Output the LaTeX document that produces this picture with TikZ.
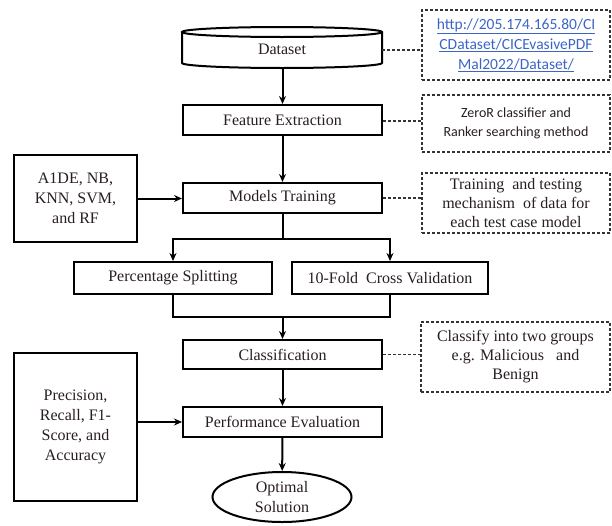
\documentclass[tikz,border=0pt]{standalone}
\usepackage{fontspec}
\setmainfont{Liberation Serif}
\newfontfamily\calibfont{Carlito}
\usetikzlibrary{arrows.meta,shapes.geometric}
\definecolor{linkblue}{RGB}{60,100,200}
\definecolor{txt}{RGB}{40,30,30}
\tikzset{
  proc/.style={draw, line width=2pt, inner sep=0pt, align=center, text=txt, font=\fontsize{16}{20}\selectfont},
  note/.style={draw=black!80, dash pattern=on 3pt off 2pt, line width=1.4pt, inner sep=0pt, align=center, text=txt, font=\fontsize{16}{19}\selectfont},
  conn/.style={line width=2pt, -{Stealth[length=8pt,width=7pt]}},
  plain/.style={line width=2pt},
  dashlink/.style={draw=black!80, dash pattern=on 3pt off 2pt, line width=1.4pt}
}
\begin{document}
\begin{tikzpicture}[x=1pt,y=1pt]
\useasboundingbox (0,0) rectangle (612,-525);
% cylinder for dataset
\draw[line width=2pt] (182,-32) -- (182,-63) arc[start angle=180,end angle=360,x radius=100,y radius=5] -- (382,-32);
\draw[line width=2pt] (282,-32) ellipse[x radius=100, y radius=5];
\node[inner sep=0pt, minimum width=200pt, minimum height=36pt, text=txt, font=\fontsize{16}{20}\selectfont] (dataset) at (282,-49) {Dataset};
\coordinate (dsbottom) at (282.5,-68);

\node[note, minimum width=188pt, minimum height=70pt, font=\calibfont\fontsize{15.5}{20}\selectfont, text=linkblue] (link) at (516,-45)
  {\underline{http://205.174.165.80/CI}\\\underline{CDataset/CICEvasivePDF}\\\underline{Mal2022/Dataset/}};

\node[proc, minimum width=199pt, minimum height=30pt] (feat) at (282.5,-120) {Feature Extraction};
\node[note, minimum width=188pt, minimum height=57pt, font=\calibfont\fontsize{14}{19}\selectfont] (zeror) at (516,-123.5)
  {ZeroR classifier and\\Ranker searching method};

\node[proc, minimum width=199pt, minimum height=30pt] (models) at (282.5,-198) {Models Training};
\node[note, minimum width=188pt, minimum height=60pt] (train) at (516,-203)
  {Training\ \ and testing\\mechanism\ \ of data for\\each test case model};

\node[proc, minimum width=123pt, minimum height=87pt] (algo) at (75.5,-198.5)
  {A1DE, NB,\\KNN, SVM,\\and RF};

\node[proc, minimum width=198pt, minimum height=32pt] (perc) at (173,-278) {Percentage Splitting};
\node[proc, minimum width=196pt, minimum height=32pt] (fold) at (390,-278) {10-Fold\ \ Cross Validation};

\node[proc, minimum width=199pt, minimum height=29pt] (cls) at (282.5,-354.5) {Classification};
\node[note, minimum width=189pt, minimum height=70pt] (clsnote) at (515.5,-357)
  {Classify into two groups\\e.g. Malicious\ \ \ and\\Benign};

\node[proc, minimum width=199pt, minimum height=30pt] (perf) at (282.5,-422) {Performance Evaluation};
\node[proc, minimum width=123pt, minimum height=148pt] (metrics) at (75.5,-427)
  {Precision,\\Recall, F1-\\Score, and\\Accuracy};

\node[proc, ellipse, minimum width=139pt, minimum height=50pt, inner sep=0pt] (opt) at (282,-497)
  {Optimal\\Solution};

% coordinates
\coordinate (split) at (282.5,-239);
\coordinate (join) at (282.5,-317);

% main flow
\draw[conn] (dsbottom) -- (feat.north);
\draw[conn] (feat) -- (models);
\draw[conn] (algo.east) -- (algo.east -| models.west);
\draw[plain] (models.south) -- (split);
\draw[conn] (split) -| (perc.north);
\draw[conn] (split) -| (fold.north);
\draw[plain] (perc.south) |- (join) -| (fold.south);
\draw[conn] (join) -- (cls.north);
\draw[conn] (cls) -- (perf);
\draw[conn] (metrics.east |- perf.west) -- (perf.west);
\draw[conn] (perf) -- (opt);

% dashed annotations
\draw[dashlink] (382,-50) -- (link.west |- 0,-50);
\draw[dashlink] (feat.east |- 0,-121) -- (zeror.west |- 0,-121);
\draw[dashlink] (models.east) -- (models.east -| train.west);
\draw[dashlink] (cls.east) -- (cls.east -| clsnote.west);
\end{tikzpicture}
\end{document}
